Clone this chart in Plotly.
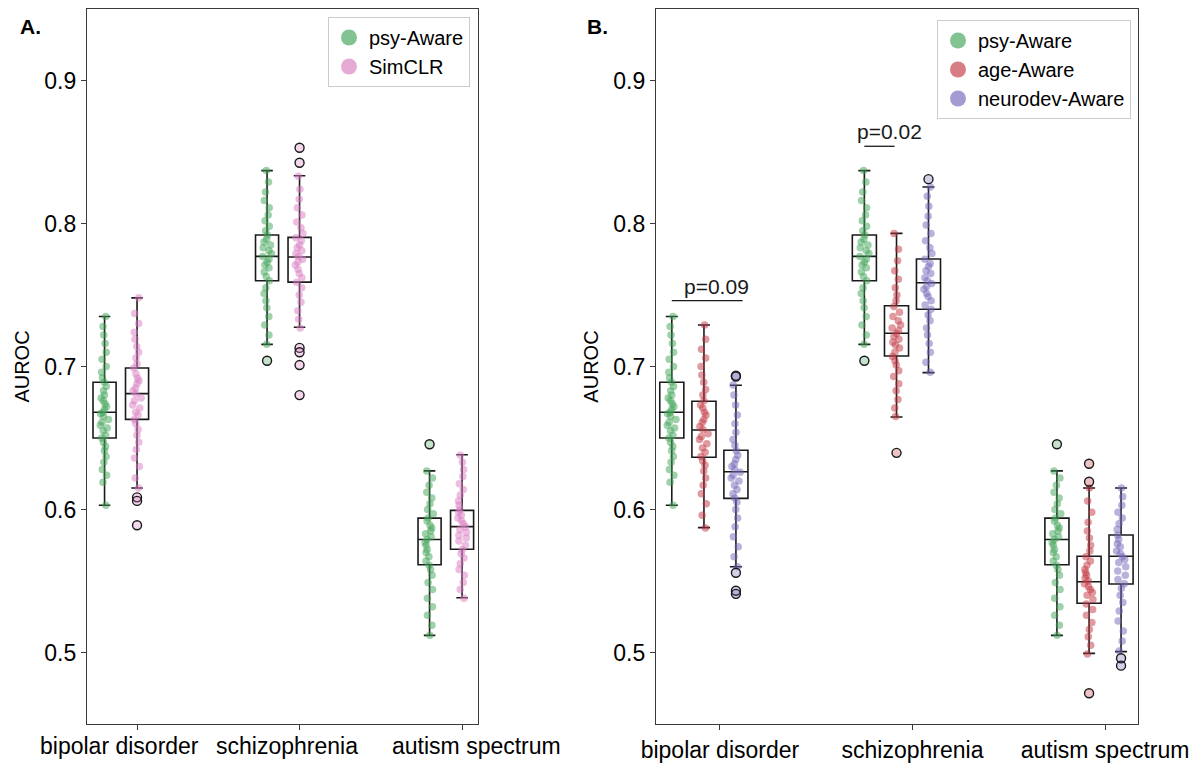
import plotly.graph_objects as go

CATEGORIES = ["bipolar disorder", "schizophrenia", "autism spectrum"]
Y_TICKS = [0.5, 0.6, 0.7, 0.8, 0.9]

# ---- psy-Aware ----
psy_lo = [0.603, 0.7155, 0.512]
psy_q1 = [0.650, 0.760, 0.5614]
psy_med = [0.668, 0.777, 0.579]
psy_q3 = [0.689, 0.792, 0.594]
psy_hi = [0.735, 0.837, 0.627]
psy_out = [[], [0.704], [0.6456]]
psy_pts = [
    [0.603, 0.619, 0.624, 0.628, 0.633, 0.637, 0.641, 0.644, 0.647, 0.650, 0.652, 0.655,
     0.657, 0.659, 0.661, 0.663, 0.665, 0.667, 0.668, 0.670, 0.672, 0.674, 0.676, 0.678,
     0.680, 0.683, 0.686, 0.689, 0.692, 0.696, 0.700, 0.705, 0.710, 0.716, 0.722, 0.728, 0.735],
    [0.7155, 0.722, 0.729, 0.735, 0.741, 0.746, 0.751, 0.755, 0.760, 0.763, 0.766, 0.769,
     0.771, 0.773, 0.775, 0.777, 0.779, 0.781, 0.783, 0.785, 0.787, 0.789, 0.792, 0.795,
     0.798, 0.802, 0.806, 0.811, 0.816, 0.822, 0.829, 0.837],
    [0.512, 0.519, 0.526, 0.532, 0.538, 0.544, 0.549, 0.554, 0.558, 0.561, 0.564, 0.567,
     0.570, 0.572, 0.575, 0.577, 0.579, 0.581, 0.583, 0.585, 0.587, 0.589, 0.592, 0.594,
     0.597, 0.600, 0.604, 0.608, 0.612, 0.617, 0.622, 0.627],
]

# ---- SimCLR ----
simclr_lo = [0.615, 0.7274, 0.5383]
simclr_q1 = [0.663, 0.759, 0.5722]
simclr_med = [0.681, 0.7766, 0.588]
simclr_q3 = [0.699, 0.7903, 0.5994]
simclr_hi = [0.748, 0.8334, 0.6383]
simclr_out = [[0.6085, 0.606, 0.589], [0.853, 0.8425, 0.713, 0.710, 0.701, 0.680], []]
simclr_pts = [
    [0.615, 0.622, 0.630, 0.636, 0.642, 0.647, 0.652, 0.656, 0.660, 0.663, 0.666, 0.668,
     0.671, 0.673, 0.676, 0.678, 0.681, 0.683, 0.685, 0.688, 0.690, 0.692, 0.695, 0.699,
     0.702, 0.706, 0.710, 0.714, 0.719, 0.724, 0.730, 0.737, 0.748],
    [0.727, 0.733, 0.739, 0.745, 0.750, 0.755, 0.759, 0.762, 0.765, 0.768, 0.771, 0.773,
     0.775, 0.777, 0.779, 0.781, 0.783, 0.785, 0.788, 0.790, 0.793, 0.797, 0.801, 0.806,
     0.811, 0.817, 0.824, 0.833],
    [0.538, 0.544, 0.549, 0.554, 0.558, 0.562, 0.566, 0.569, 0.572, 0.575, 0.578, 0.580,
     0.582, 0.584, 0.586, 0.588, 0.590, 0.592, 0.594, 0.596, 0.598, 0.600, 0.603, 0.606,
     0.610, 0.614, 0.618, 0.623, 0.628, 0.633, 0.638],
]

# ---- age-Aware ----
age_lo = [0.5873, 0.6647, 0.4994]
age_q1 = [0.6365, 0.7073, 0.5344]
age_med = [0.6556, 0.7232, 0.5495]
age_q3 = [0.6757, 0.7425, 0.5673]
age_hi = [0.729, 0.7931, 0.615]
age_out = [[], [0.6396], [0.632, 0.6194, 0.4715]]
age_pts = [
    [0.587, 0.596, 0.604, 0.611, 0.617, 0.622, 0.627, 0.631, 0.634, 0.637, 0.640, 0.643,
     0.646, 0.649, 0.651, 0.653, 0.656, 0.658, 0.661, 0.663, 0.666, 0.668, 0.671, 0.673,
     0.676, 0.680, 0.684, 0.689, 0.694, 0.700, 0.706, 0.712, 0.719, 0.729],
    [0.665, 0.671, 0.677, 0.683, 0.688, 0.693, 0.697, 0.701, 0.704, 0.707, 0.710, 0.713,
     0.715, 0.717, 0.719, 0.721, 0.723, 0.725, 0.727, 0.729, 0.732, 0.735, 0.738, 0.742,
     0.746, 0.750, 0.755, 0.761, 0.767, 0.774, 0.782, 0.793],
    [0.499, 0.505, 0.511, 0.516, 0.521, 0.526, 0.530, 0.534, 0.537, 0.540, 0.542, 0.544,
     0.546, 0.548, 0.550, 0.552, 0.554, 0.556, 0.558, 0.561, 0.564, 0.567, 0.571, 0.575,
     0.580, 0.585, 0.591, 0.598, 0.606, 0.615],
]

# ---- neurodev-Aware ----
neuro_lo = [0.560, 0.6957, 0.5006]
neuro_q1 = [0.6078, 0.740, 0.5479]
neuro_med = [0.6264, 0.7586, 0.5673]
neuro_q3 = [0.6414, 0.7752, 0.5822]
neuro_hi = [0.6869, 0.8255, 0.615]
neuro_out = [[0.6936, 0.693, 0.5558, 0.5432, 0.541], [0.831], [0.496, 0.4908]]
neuro_pts = [
    [0.560, 0.567, 0.574, 0.581, 0.588, 0.594, 0.600, 0.605, 0.608, 0.611, 0.614, 0.617,
     0.620, 0.622, 0.624, 0.626, 0.628, 0.630, 0.632, 0.635, 0.638, 0.641, 0.645, 0.649,
     0.654, 0.660, 0.666, 0.673, 0.680, 0.687],
    [0.696, 0.703, 0.710, 0.716, 0.722, 0.727, 0.732, 0.736, 0.740, 0.743, 0.746, 0.749,
     0.751, 0.754, 0.756, 0.758, 0.760, 0.762, 0.765, 0.767, 0.770, 0.772, 0.775, 0.779,
     0.783, 0.788, 0.793, 0.799, 0.805, 0.812, 0.819, 0.8255],
    [0.501, 0.508, 0.515, 0.522, 0.529, 0.535, 0.540, 0.545, 0.548, 0.551, 0.554, 0.557,
     0.560, 0.563, 0.565, 0.567, 0.569, 0.571, 0.574, 0.576, 0.579, 0.582, 0.586, 0.590,
     0.594, 0.598, 0.603, 0.609, 0.615],
]

# significance labels in panel B and the heights of their bars
P_LABELS = ["p=0.09", "p=0.02"]
P_HEIGHTS = [0.746, 0.854]

MODELS = {
    "psy-Aware": dict(lo=psy_lo, q1=psy_q1, med=psy_med, q3=psy_q3, hi=psy_hi,
                      out=psy_out, pts=psy_pts, rgb=(63, 163, 86)),
    "SimCLR": dict(lo=simclr_lo, q1=simclr_q1, med=simclr_med, q3=simclr_q3, hi=simclr_hi,
                   out=simclr_out, pts=simclr_pts, rgb=(217, 124, 193)),
    "age-Aware": dict(lo=age_lo, q1=age_q1, med=age_med, q3=age_q3, hi=age_hi,
                      out=age_out, pts=age_pts, rgb=(195, 55, 65)),
    "neurodev-Aware": dict(lo=neuro_lo, q1=neuro_q1, med=neuro_med, q3=neuro_q3, hi=neuro_hi,
                           out=neuro_out, pts=neuro_pts, rgb=(117, 101, 186)),
}

FONT = "Liberation Sans, Arial, sans-serif"
INK = "#1a1a1a"
FRAME = "#3a3a3a"


def rgba(rgb, a):
    return f"rgba({rgb[0]},{rgb[1]},{rgb[2]},{a})"


# panel setup: axes, per-model offsets from the category tick, box width (x units)
PANELS = [
    dict(xa="x", ya="y", legend="legend", width=0.142, jitter=0.4,
         offsets={"psy-Aware": -0.2, "SimCLR": 0.0}),
    dict(xa="x2", ya="y2", legend="legend2", width=0.125, jitter=0.4,
         offsets={"psy-Aware": -0.25, "age-Aware": -0.083, "neurodev-Aware": 0.083}),
]

fig = go.Figure()

for panel in PANELS:
    for name, off in panel["offsets"].items():
        m = MODELS[name]
        pos = [i + off for i in range(len(CATEGORIES))]
        # box outline from the five-number summary
        fig.add_trace(go.Box(
            x=pos, q1=m["q1"], median=m["med"], q3=m["q3"],
            lowerfence=m["lo"], upperfence=m["hi"],
            width=panel["width"], whiskerwidth=0.5, boxpoints=False,
            fillcolor="rgba(0,0,0,0)", line=dict(color=INK, width=1.6),
            showlegend=False, hoverinfo="skip",
            xaxis=panel["xa"], yaxis=panel["ya"],
        ))
        # jittered individual runs
        xs, ys = [], []
        for p, vals in zip(pos, m["pts"]):
            xs += [p] * len(vals)
            ys += vals
        fig.add_trace(go.Box(
            x=xs, y=ys, boxpoints="all", jitter=panel["jitter"], pointpos=0,
            width=panel["width"], fillcolor="rgba(0,0,0,0)",
            line=dict(color="rgba(0,0,0,0)", width=0),
            marker=dict(color=rgba(m["rgb"], 0.5), size=7.5),
            showlegend=False, hoverinfo="skip",
            xaxis=panel["xa"], yaxis=panel["ya"],
        ))
        # outliers
        ox, oy = [], []
        for p, vals in zip(pos, m["out"]):
            ox += [p] * len(vals)
            oy += vals
        if oy:
            fig.add_trace(go.Scatter(
                x=ox, y=oy, mode="markers",
                marker=dict(size=9, color=rgba(m["rgb"], 0.3),
                            line=dict(color=INK, width=1.4)),
                showlegend=False, hoverinfo="skip",
                xaxis=panel["xa"], yaxis=panel["ya"],
            ))
        # legend entry
        fig.add_trace(go.Scatter(
            x=[None], y=[None], mode="markers", name=name,
            marker=dict(size=16, color=rgba(m["rgb"], 0.65)),
            legend=panel["legend"], xaxis=panel["xa"], yaxis=panel["ya"],
        ))

# significance bars (panel B)
offB = PANELS[1]["offsets"]
brackets = [
    (0, offB["psy-Aware"], offB["neurodev-Aware"] + 0.035),
    (1, offB["psy-Aware"], offB["age-Aware"] - 0.01),
]
annotations = []
shapes = []
for (cat, a, b), lab, h in zip(brackets, P_LABELS, P_HEIGHTS):
    shapes.append(dict(type="line", xref="x2", yref="y2", x0=cat + a, x1=cat + b,
                       y0=h, y1=h, line=dict(color=INK, width=1.3)))
    annotations.append(dict(x=cat + (a + b) / 2 + 0.05, y=h, xref="x2", yref="y2",
                            text=lab, showarrow=False, yanchor="bottom", yshift=1,
                            font=dict(size=21, color=INK, family=FONT)))

# panel letters
for letter, px in [("A.", 30), ("B.", 597)]:
    annotations.append(dict(x=px / 1200, y=1 - 27 / 765, xref="paper", yref="paper",
                            text=f"<b>{letter}</b>", showarrow=False,
                            xanchor="center", yanchor="middle",
                            font=dict(size=21, color="black", family=FONT)))

y_dom = [1 - 724 / 765, 1 - 9 / 765]

# category names under panel A are set as free text, spread a little wider
# than the tick marks themselves
A_LABEL_X = [-0.11, 0.92, 2.09]
for lab, xl in zip(CATEGORIES, A_LABEL_X):
    annotations.append(dict(x=xl, y=y_dom[0], xref="x", yref="paper", text=lab,
                            showarrow=False, xanchor="center", yanchor="top", yshift=-7,
                            font=dict(size=23, color="black", family=FONT)))

axis_common = dict(showline=True, mirror=True, linecolor=FRAME, linewidth=1.3,
                   ticks="outside", ticklen=5, tickwidth=1.2, tickcolor=FRAME,
                   showgrid=False, zeroline=False, automargin=False, tickangle=0,
                   tickfont=dict(size=23, color="black", family=FONT))

y_title = dict(text="AUROC", standoff=9, font=dict(size=20, family=FONT))
fig.update_layout(
    width=1200, height=765, margin=dict(l=0, r=0, t=0, b=0),
    paper_bgcolor="white", plot_bgcolor="white",
    font=dict(family=FONT, color="black"),
    boxmode="overlay",
    xaxis=dict(domain=[87 / 1200, 478 / 1200], range=[-0.308, 2.098],
               tickvals=[0, 1, 2], showticklabels=False, anchor="y", **axis_common),
    yaxis=dict(domain=y_dom, range=[0.45, 0.95], tickvals=Y_TICKS,
               ticktext=[f"{v:.1f}" for v in Y_TICKS], anchor="x",
               title=y_title, **axis_common),
    xaxis2=dict(domain=[656 / 1200, 1138 / 1200], range=[-0.332, 2.171],
                tickvals=[0, 1, 2], ticktext=CATEGORIES, anchor="y2", **axis_common),
    yaxis2=dict(domain=y_dom, range=[0.45, 0.95], tickvals=Y_TICKS,
                ticktext=[f"{v:.1f}" for v in Y_TICKS], anchor="x2",
                title=y_title, **axis_common),
    legend=dict(x=470 / 1200, xanchor="right", y=1 - 17 / 765, yanchor="top",
                bgcolor="white", bordercolor="#cccccc", borderwidth=1,
                font=dict(size=20, family=FONT), itemsizing="trace"),
    legend2=dict(x=1131 / 1200, xanchor="right", y=1 - 20 / 765, yanchor="top",
                 bgcolor="white", bordercolor="#cccccc", borderwidth=1,
                 font=dict(size=20, family=FONT), itemsizing="trace"),
    annotations=annotations,
    shapes=shapes,
)

fig.write_html("out.html")
